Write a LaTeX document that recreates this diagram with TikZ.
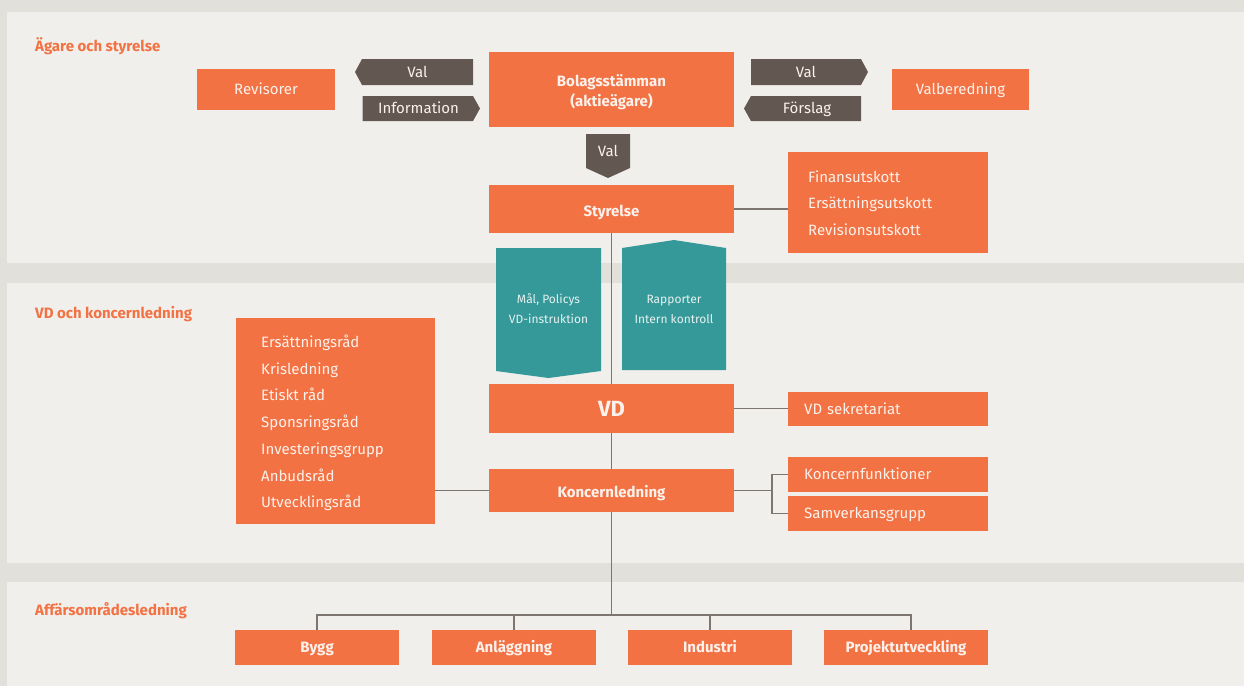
\documentclass[tikz,border=0pt]{standalone}
\usepackage{fontspec}
\setmainfont{Fira Sans}
\definecolor{gapgray}{HTML}{E2E0DB}
\definecolor{panelgray}{HTML}{F1EFEB}
\definecolor{skaorange}{HTML}{F27244}
\definecolor{tagbrown}{HTML}{635751}
\definecolor{docteal}{HTML}{369999}
\definecolor{linegray}{HTML}{7D756F}
\definecolor{lighttext}{HTML}{FDF1EB}
\definecolor{tealtext}{HTML}{E6F2F0}
\begin{document}
\begin{tikzpicture}[x=1pt,y=-1pt,
  capc/.style={text height=10.6pt,text depth=0pt},
  lowtext/.style={text height=14.4pt,text depth=0pt},
  box/.style={fill=skaorange,draw=none,inner sep=0pt,text=lighttext,
    font=\fontsize{15}{18}\selectfont},
  onebox/.style={box,capc},
  boldbox/.style={box,capc,font=\fontsize{15}{18}\selectfont\bfseries},
  listtext/.style={anchor=west,align=left,inner sep=0pt,text=lighttext},
  section/.style={anchor=west,inner sep=0pt,text=skaorange,capc,
    font=\fontsize{15}{18}\selectfont\bfseries},
  tag/.style={fill=tagbrown},
  tagtext/.style={inner sep=0pt,capc,text=lighttext,font=\fontsize{15}{18}\selectfont},
  doc/.style={fill=docteal},
  doctext/.style={inner sep=0pt,align=center,text=tealtext,
    font=\fontsize{12}{20}\selectfont},
  conn/.style={draw=linegray,line width=1.4pt}]

% canvas and the three bands
\useasboundingbox (0,0) rectangle (1244,686);
\fill[gapgray] (0,0) rectangle (1244,686);
\fill[panelgray] (7,12) rectangle (1244,263);
\fill[panelgray] (7,283) rectangle (1244,563);
\fill[panelgray] (7,582) rectangle (1244,686);

\node[section] (sec1) at (35,46) {Ägare och styrelse};
\node[section] (sec2) at (35,313) {VD och koncernledning};
\node[section] (sec3) at (35,610) {Affärsområdesledning};

% owners and board
\node[onebox,minimum width=138pt,minimum height=41pt] (revisorer) at (266,89) {Revisorer};
\node[box,minimum width=245pt,minimum height=75pt] (bolag) at (611.5,89.5) {};
\node[listtext,anchor=center,align=center,font=\fontsize{15}{20}\selectfont\bfseries] (bolagtext) at (611.5,92) {Bolagsstämman\\(aktieägare)};
\node[onebox,minimum width=137pt,minimum height=41pt] (valberedning) at (960.5,89) {Valberedning};
\node[boldbox,lowtext,minimum width=245pt,minimum height=48pt] (styrelse) at (611.5,209) {Styrelse};
\node[box,minimum width=200pt,minimum height=101pt] (utskott) at (888,202.5) {};
\node[listtext,font=\fontsize{15}{26.5}\selectfont] (utskotttext) at (808,203)
  {Finansutskott\\Ersättningsutskott\\Revisionsutskott};

% tags between the boxes
\fill[tag] (355,72) -- (362,59) -- (473,59) -- (473,85) -- (362,85) -- cycle;
\node[tagtext] (valL) at (417.5,72) {Val};
\fill[tag] (362.5,96) -- (473,96) -- (480,108.5) -- (473,121) -- (362.5,121) -- cycle;
\node[tagtext] (infoL) at (418.5,108.5) {Information};
\fill[tag] (751,59) -- (861,59) -- (868,72) -- (861,85) -- (751,85) -- cycle;
\node[tagtext] (valR) at (806,72) {Val};
\fill[tag] (744,108.5) -- (751,96) -- (861,96) -- (861,121) -- (751,121) -- cycle;
\node[tagtext] (forslagR) at (807,108.5) {Förslag};
\fill[tag] (586,134) -- (630,134) -- (630,168) -- (608,178) -- (586,168) -- cycle;
\node[tagtext] (valD) at (608,151) {Val};

% documents passed between board and CEO
\fill[doc] (496,248) -- (601,248) -- (601,371) -- (548.5,378) -- (496,371) -- cycle;
\node[doctext] (maltext) at (548.5,308.5) {Mål, Policys\\VD-instruktion};
\fill[doc] (622,248) -- (674,240) -- (726,248) -- (726,370) -- (622,370) -- cycle;
\node[doctext] (rapptext) at (674,309.5) {Rapporter\\Intern kontroll};

% CEO and group management
\node[box,minimum width=245pt,minimum height=49pt,text height=16pt,text depth=0pt,font=\fontsize{22}{26}\selectfont\bfseries] (vd) at (611.5,408.5) {VD};
\node[onebox,anchor=west,minimum width=200pt,minimum height=34pt,text width=168pt,inner xsep=16pt] (vdsek) at (788,409) {VD sekretariat};
\node[boldbox,lowtext,minimum width=245pt,minimum height=43pt] (koncern) at (611.5,490.5) {Koncernledning};
\node[box,minimum width=199pt,minimum height=206pt] (rad) at (335.5,421) {};
\node[listtext,font=\fontsize{15}{26.7}\selectfont] (radtext) at (261,423)
  {Ersättningsråd\\Krisledning\\Etiskt råd\\Sponsringsråd\\Investeringsgrupp\\Anbudsråd\\Utvecklingsråd};
\node[onebox,anchor=west,minimum width=200pt,minimum height=35pt,text width=168pt,inner xsep=16pt] (kfunk) at (788,474.5) {Koncernfunktioner};
\node[onebox,anchor=west,minimum width=200pt,minimum height=35pt,text width=168pt,inner xsep=16pt] (samv) at (788,513.5) {Samverkansgrupp};

% business areas
\node[boldbox,minimum width=164pt,minimum height=35pt] (bygg) at (317,647.5) {Bygg};
\node[boldbox,minimum width=164pt,minimum height=35pt] (anl) at (514,647.5) {Anläggning};
\node[boldbox,minimum width=164pt,minimum height=35pt] (ind) at (710,647.5) {Industri};
\node[boldbox,minimum width=164pt,minimum height=35pt] (proj) at (906,647.5) {Projektutveckling};

% connectors
\coordinate (bus) at (611.5,615);
\coordinate (fork) at (772,490.5);
\draw[conn] (styrelse.east) -- (styrelse.east -| utskott.west);
\draw[conn] (styrelse.south) -- (vd.north);
\draw[conn] (vd.east) -- (vd.east -| vdsek.west);
\draw[conn] (vd.south) -- (koncern.north);
\draw[conn] (koncern.west) -- (koncern.west -| rad.east);
\draw[conn] (koncern.east) -- (fork);
\draw[conn] (kfunk.west) -| (fork) |- (samv.west);
\draw[conn] (koncern.south) -- (bus);
\draw[conn] (bygg.north) |- (bus);
\draw[conn] (anl.north) -- (anl.north |- bus);
\draw[conn] (ind.north) -- (ind.north |- bus);
\draw[conn] ([xshift=5pt]proj.north) |- (bus);
\end{tikzpicture}
\end{document}
